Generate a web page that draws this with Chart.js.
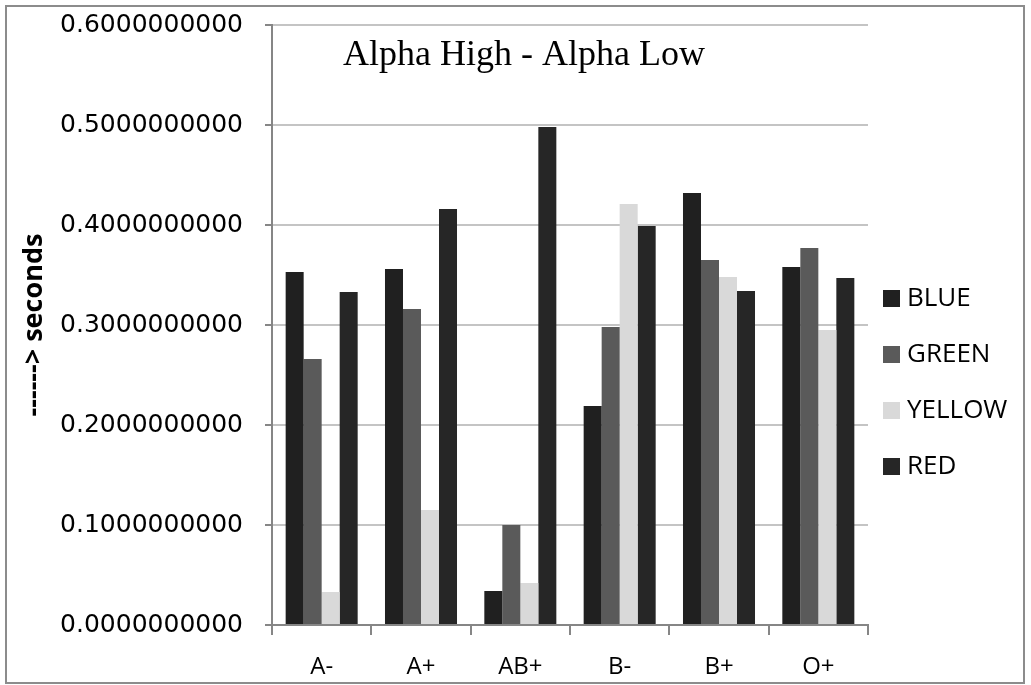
<!DOCTYPE html>
<html>
<head>
<meta charset="utf-8">
<script src="https://cdn.jsdelivr.net/npm/chart.js@4.4.0/dist/chart.umd.min.js"></script>
<style>
  html, body { margin: 0; padding: 0; background: #fff; }
  #wrap { width: 1031px; height: 685px; }
</style>
</head>
<body>
<div id="wrap"><canvas id="myChart" width="1031" height="685"></canvas></div>
<script>
// data
const groups = ["A-", "A+", "AB+", "B-", "B+", "O+"];
const blue   = [0.353, 0.356, 0.034, 0.219, 0.432, 0.358];
const green  = [0.266, 0.316, 0.100, 0.298, 0.365, 0.377];
const yellow = [0.033, 0.115, 0.042, 0.421, 0.348, 0.295];
const red    = [0.333, 0.416, 0.498, 0.399, 0.334, 0.347];
const yTicks = [0, 0.1, 0.2, 0.3, 0.4, 0.5, 0.6];

const chartTitle = "Alpha High - Alpha Low";

// frame, title and the side legend
const extras = {
  id: "extras",
  afterDraw(chart) {
    const ctx = chart.ctx;
    ctx.save();
    ctx.strokeStyle = "#8c8c8c";
    ctx.lineWidth = 2;
    ctx.strokeRect(6, 6, 1018, 677);

    ctx.fillStyle = "#000";
    ctx.font = "36px 'Liberation Serif'";
    ctx.textAlign = "center";
    ctx.textBaseline = "alphabetic";
    ctx.fillText(chartTitle, 524, 65);

    ctx.font = "26px 'Open Sans'";
    ctx.textAlign = "left";
    ctx.textBaseline = "middle";
    chart.data.datasets.forEach((ds, i) => {
      const y = 298 + i * 56;
      ctx.fillStyle = ds.backgroundColor;
      ctx.fillRect(883, y - 8, 17, 17);
      ctx.fillStyle = "#000";
      ctx.fillText(ds.label, 907, y + 1);
    });
    ctx.restore();
  }
};

const mychart = document.getElementById("myChart").getContext("2d");
new Chart(mychart, {
  type: "bar",
  data: {
    labels: groups,
    datasets: [
      { label: "BLUE", data: blue, backgroundColor: "#202020" },
      { label: "GREEN", data: green, backgroundColor: "#5a5a5a" },
      { label: "YELLOW", data: yellow, backgroundColor: "#d9d9d9" },
      { label: "RED", data: red, backgroundColor: "#262626" }
    ]
  },
  options: {
    responsive: false,
    animation: false,
    layout: { padding: { left: 0, right: 163, top: 25, bottom: 0 } },
    datasets: {
      bar: { categoryPercentage: 0.725, barPercentage: 1.0, borderWidth: 0 }
    },
    plugins: {
      legend: { display: false },
      title: { display: false },
      tooltip: { enabled: false }
    },
    scales: {
      x: {
        afterFit(s) { s.height = 60; s.paddingLeft = 0; s.paddingRight = 0; },
        grid: { drawOnChartArea: false, tickLength: 10, color: "#868686", lineWidth: 2 },
        border: { color: "#868686", width: 2 },
        ticks: { color: "#000", font: { family: "Open Sans", size: 24 }, padding: 18 }
      },
      y: {
        min: 0,
        max: 0.6,
        afterFit(s) { s.width = 272; s.paddingTop = 0; s.paddingBottom = 0; },
        afterBuildTicks(s) { s.ticks = yTicks.map(v => ({ value: v })); },
        grid: { color: "#c4c4c4", lineWidth: 2, tickLength: 7, tickColor: "#868686" },
        border: { color: "#868686", width: 2 },
        ticks: {
          color: "#000",
          font: { family: "DejaVu Sans", size: 25 },
          padding: 22,
          callback: v => Number(v).toFixed(10)
        },
        title: {
          display: true,
          text: "------> seconds",
          color: "#000",
          font: { family: "Open Sans", size: 27, weight: "bold" },
          padding: { top: 18, bottom: 0 }
        }
      }
    }
  },
  plugins: [extras]
});
</script>
</body>
</html>
